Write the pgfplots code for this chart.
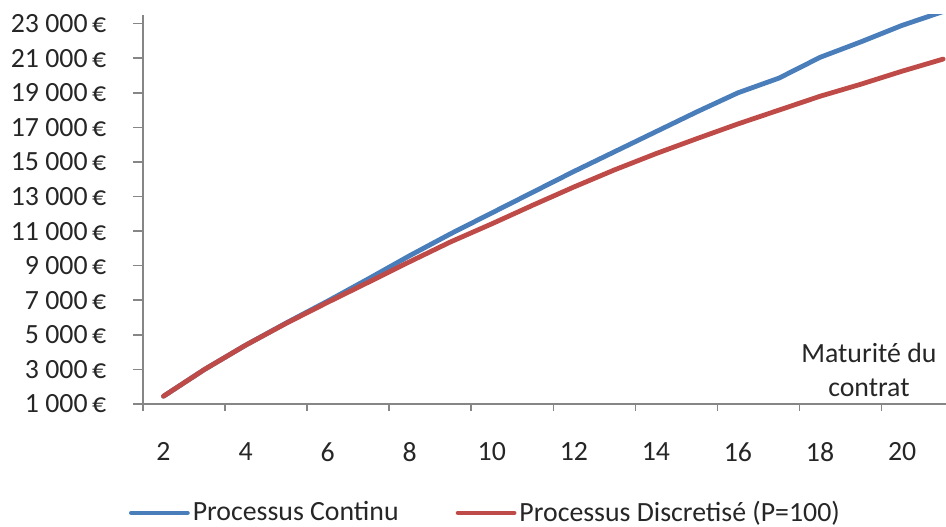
\documentclass[border=0pt]{standalone}
\usepackage{fontspec}
\setmainfont{Carlito}
\usepackage{pgfplots}
\pgfplotsset{compat=1.18}
\definecolor{serieblue}{HTML}{4A7EBB}
\definecolor{seriered}{HTML}{BE4B48}
\definecolor{axisgray}{HTML}{868686}

\begin{document}
\fontsize{13.9bp}{17bp}\selectfont
\begin{tikzpicture}
\begin{axis}[
  at={(0,0)}, anchor=south west,
  scale only axis, width=401.5bp, height=194.5bp,
  xmin=1.5, xmax=21.07, ymin=1000, ymax=23500,
  axis x line=bottom, axis y line=left,
  axis line style={axisgray, line width=0.8bp, -},
  tick align=outside,
  scaled y ticks=false,
  xtick={2,4,...,20},
  major x tick style={draw=none},
  extra x ticks={1.5,3.5,...,19.5},
  extra x tick labels={},
  extra x tick style={major tick length=3.5bp, major x tick style={draw=axisgray, line width=0.8bp}},
  ytick={1000,3000,...,23000},
  yticklabels={1 000\,€,3 000\,€,5 000\,€,7 000\,€,9 000\,€,11 000\,€,13 000\,€,15 000\,€,17 000\,€,19 000\,€,21 000\,€,23 000\,€},
  major y tick style={axisgray, line width=0.8bp},
  major tick length=5bp,
  /pgf/number format/assume math mode=true,
  tick label style={text=black!85},
  xticklabel style={yshift=-9.5bp},
  yticklabel style={xshift=-8.5bp},
  xlabel={Maturité du\\contrat},
  x label style={at={(axis description cs:0.904,0.087)}, anchor=center, align=center, text=black!85},
  legend style={at={(axis description cs:0.427,-0.28)}, anchor=center, draw=none, fill=none,
    text=black!85, nodes={inner sep=1.5bp},
    /tikz/every even column/.append style={column sep=27bp}},
  legend columns=2,
  legend image code/.code={\draw[#1] (0bp,0bp) -- (28bp,0bp);},
  every axis plot/.append style={line width=2.4bp, line cap=round, line join=round},
]
% Processus continu
\addplot[serieblue] coordinates {
  (2,1450) (3,3000) (4,4400) (5,5700) (6,6950) (7,8250) (8,9580)
  (9,10850) (10,12050) (11,13250) (12,14450) (13,15600) (14,16750)
  (15,17900) (16,19000) (17,19850) (18,21050) (19,21950) (20,22900) (21,23700)
};
\addlegendentry{Processus Continu}
% Processus discrétisé, P = 100
\addplot[seriered] coordinates {
  (2,1450) (3,3000) (4,4400) (5,5680) (6,6880) (7,8050) (8,9230)
  (9,10380) (10,11420) (11,12500) (12,13550) (13,14550) (14,15480)
  (15,16350) (16,17200) (17,18000) (18,18800) (19,19500) (20,20250) (21,20950)
};
\addlegendentry{Processus Discretisé (P=100)}
\end{axis}
\pgfresetboundingbox
\path (-71.5bp,-61.5bp) rectangle (401.5bp,202bp);
\end{tikzpicture}
\end{document}
